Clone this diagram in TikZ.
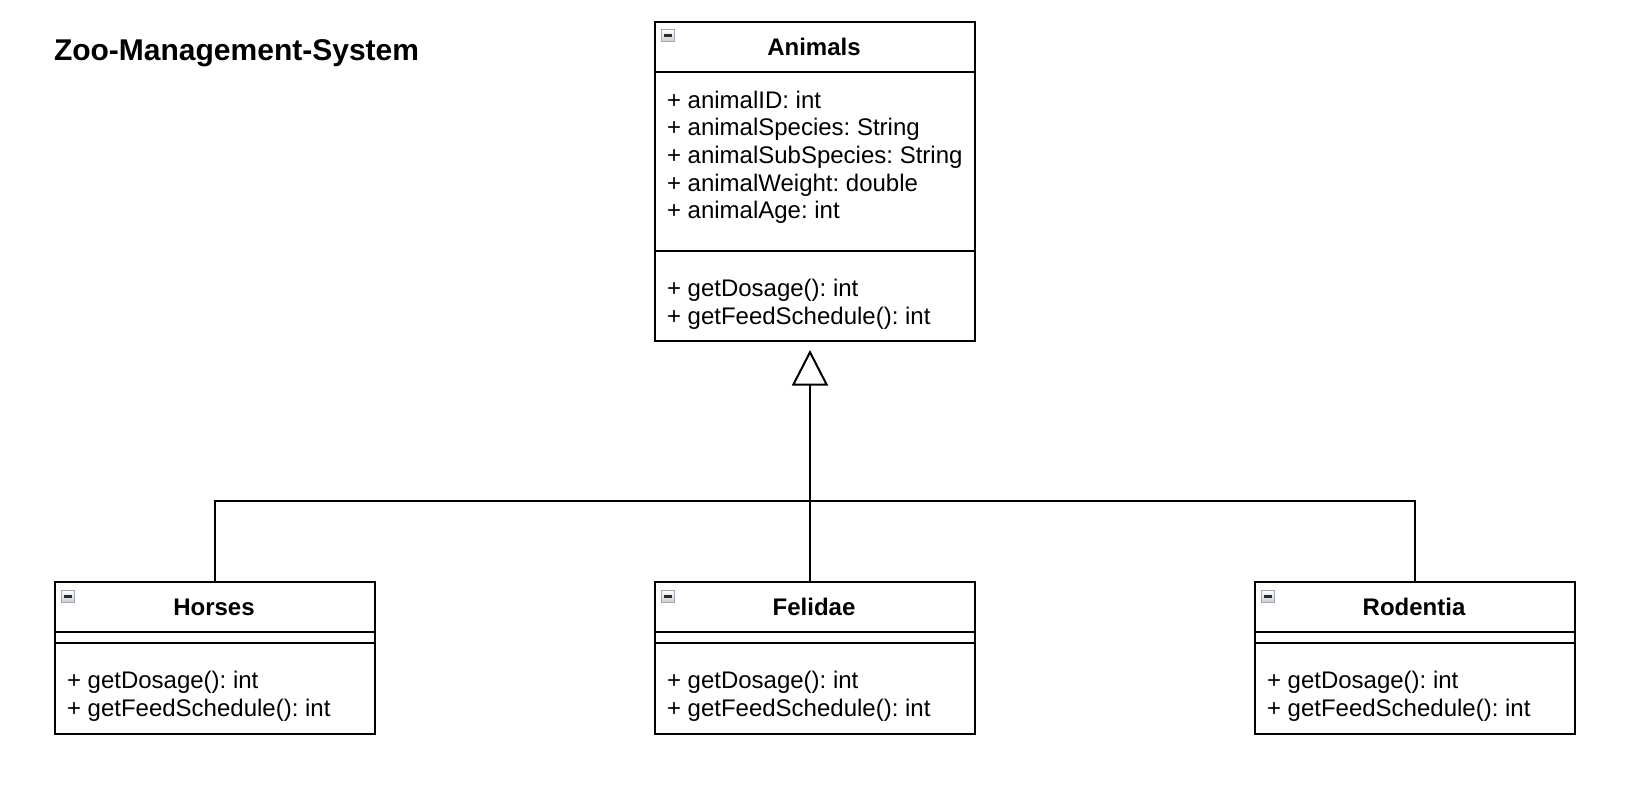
\documentclass[tikz,border=0pt]{standalone}
\usepackage{fontspec}
\setmainfont{Liberation Sans}
\usetikzlibrary{arrows.meta}
\definecolor{iconedge}{RGB}{160,170,182}
\definecolor{iconbar}{RGB}{40,44,50}

\begin{document}
\frenchspacing
\begin{tikzpicture}[x=1pt, y=-1pt, line width=2pt,
  classbox/.style={draw, line width=2pt, inner sep=0pt, minimum width=320pt, anchor=north west},
  classname/.style={anchor=base, inner sep=0pt, font=\fontsize{24}{28}\selectfont\bfseries},
  member/.style={anchor=base west, inner sep=0pt, font=\fontsize{24}{28}\selectfont},
  foldicon/.style={draw=iconedge, line width=1pt, top color=white, bottom color=black!20,
    minimum size=12.5pt, inner sep=0pt,
    path picture={\fill[iconbar] ([xshift=2.6pt,yshift=-1.4pt]path picture bounding box.west)
      rectangle ([xshift=-2.6pt,yshift=1.4pt]path picture bounding box.east);}},
  rule/.style={line width=2pt},
  inherit/.style={line width=2pt, -{Triangle[open, length=35.5pt, width=36pt, fill=white]}}]

\useasboundingbox (0,0) rectangle (1625,804);

% title
\node[anchor=base west, inner sep=0pt, font=\fontsize{30}{36}\selectfont\bfseries]
  (title) at (53,60.7) {Zoo-Management-System};

% ---------- Animals ----------
\node[classbox, minimum height=319.3pt] (animals) at (654,20.7) {};
\draw[rule] (animals.west |- 0,72) -- (animals.east |- 0,72);
\draw[rule] (animals.west |- 0,251) -- (animals.east |- 0,251);
\node[foldicon] (animals-icon) at (668,35.5) {};
\node[classname] (animals-name) at (814,55.7) {Animals};
\node[member] (animals-a1) at (666,108.3) {+ animalID: int};
\node[member] (animals-a2) at (666,135.9) {+ animalSpecies: String};
\node[member] (animals-a3) at (666,163.5) {+ animalSubSpecies: String};
\node[member] (animals-a4) at (666,191.1) {+ animalWeight: double};
\node[member] (animals-a5) at (666,218.7) {+ animalAge: int};
\node[member] (animals-m1) at (666,296.7) {+ getDosage(): int};
\node[member] (animals-m2) at (666,324.3) {+ getFeedSchedule(): int};

% ---------- subclasses ----------
\foreach \cls/\name/\x in {horses/Horses/54, felidae/Felidae/654, rodentia/Rodentia/1254} {
  \node[classbox, minimum height=152pt] (\cls) at (\x,581) {};
  \draw[rule] (\cls.west |- 0,632) -- (\cls.east |- 0,632);
  \draw[rule] (\cls.west |- 0,643) -- (\cls.east |- 0,643);
  \node[foldicon] (\cls-icon) at (\x+14,596.3) {};
  \node[classname] (\cls-name) at (\x+160,615.7) {\name};
  \node[member] (\cls-m1) at (\x+12,688.9) {+ getDosage(): int};
  \node[member] (\cls-m2) at (\x+12,716.5) {+ getFeedSchedule(): int};
}

% ---------- generalisation ----------
\coordinate (bus) at (809,501);
\draw[rule] (horses.north) |- (bus) -| (rodentia.north);
\draw[inherit] ([xshift=-5pt]felidae.north) -- ([xshift=-5pt,yshift=-8pt]animals.south);

\end{tikzpicture}
\end{document}
